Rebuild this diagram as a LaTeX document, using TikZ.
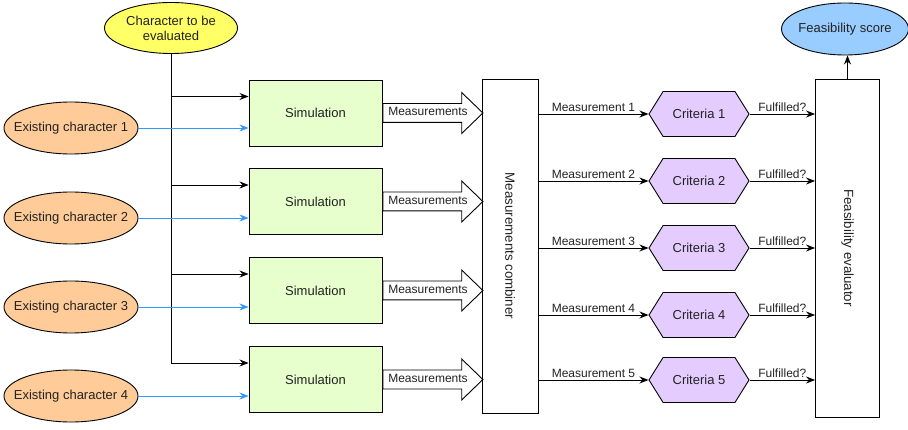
\documentclass[tikz,border=0pt]{standalone}
\usepackage{fontspec}
\setmainfont{Liberation Sans}
\usetikzlibrary{shapes.geometric,shapes.arrows,shapes.symbols,arrows.meta,calc}

\definecolor{inkgray}{HTML}{222222}
\definecolor{charyellow}{HTML}{FFFF66}
\definecolor{existorange}{HTML}{FFCC99}
\definecolor{simgreen}{HTML}{E6FFCC}
\definecolor{critpurple}{HTML}{E5CCFF}
\definecolor{scoreblue}{HTML}{99CCFF}
\definecolor{linkblue}{HTML}{3399FF}

\tikzset{
  base/.style={draw=black, line width=0.9pt, text=inkgray, font=\fontsize{13}{15}\selectfont, inner sep=0pt},
  % ellipse whose size is set only by its minimum dimensions; its caption is a centred label
  oval/.style={base, ellipse,
    label={[text=inkgray, font=\fontsize{13}{15}\selectfont, align=center, inner sep=0pt]center:#1}},
  simbox/.style={base, rectangle, fill=simgreen, minimum width=133pt, minimum height=66pt},
  tallbox/.style={base, rectangle, fill=white},
  vtext/.style={rotate=-90, text=inkgray, font=\fontsize{13.3}{15}\selectfont},
  crit/.style={base, signal, signal to=west and east, signal pointer angle=116,
    fill=critpurple, minimum width=100pt, minimum height=45pt},
  measarrow/.style={base, single arrow, fill=white, minimum height=100pt,
    single arrow head extend=11pt, single arrow tip angle=88,
    text height=8pt, text depth=2pt, inner ysep=4pt, inner xsep=1pt,
    font=\fontsize{12}{14}\selectfont},
  link/.style={line width=0.9pt, draw=black, -{Stealth[length=9pt,width=7pt]}},
  bluelink/.style={link, draw=linkblue, -{Stealth[length=9pt,width=7pt]}},
  lbl/.style={text=inkgray, font=\fontsize{12}{14}\selectfont, inner sep=2pt},
}

\begin{document}
\begin{tikzpicture}[x=1pt, y=-1pt]
  \useasboundingbox (0,0) rectangle (908,430);

  % inputs
  \node[oval={Character to be\\evaluated}, fill=charyellow, minimum width=133pt, minimum height=51pt]
    (char) at (171,28) {};

  \foreach \i/\y in {1/128, 2/218, 3/307, 4/396} {
    \node[oval={Existing character \i}, fill=existorange, minimum width=134pt, minimum height=52pt]
      (ex\i) at (71,\y) {};
  }

  % simulation stages
  \foreach \i/\y in {1/113, 2/201.5, 3/290.5, 4/379.5} {
    \node[simbox] (sim\i) at (315.5,\y) {Simulation};
    \coordinate (br\i) at ([yshift=16.5pt]sim\i.west);
  }

  % combiner and evaluator blocks
  \node[tallbox, minimum width=56pt, minimum height=334pt] (comb) at (510,246) {};
  \node[vtext] at (comb.center) {Measurements combiner};

  \node[tallbox, minimum width=64pt, minimum height=338pt] (feas) at (847.5,248) {};
  \node[vtext] at (feas.center) {Feasibility evaluator};

  \node[oval={Feasibility score}, fill=scoreblue, minimum width=127pt, minimum height=52pt] (score) at (845,29) {};

  % criteria checks
  \foreach \i/\y in {1/114, 2/181, 3/248, 4/315, 5/380} {
    \node[crit] (crit\i) at (699,\y) {Criteria \i};
  }

  % candidate feed into every simulation
  \draw[line width=0.9pt] (char.south) -- (char.south |- br4);
  \foreach \i in {1,2,3,4} {
    \draw[link] (char.south |- br\i) -- (br\i);
  }

  % reference characters feed
  \foreach \i in {1,2,3,4} {
    \draw[bluelink] (ex\i.east) -- (ex\i.east -| sim\i.west);
  }

  % measurements passed to the combiner
  \foreach \i in {1,2,3,4} {
    \node[measarrow, anchor=tail] (ma\i) at (sim\i.east) {Measurements};
  }

  % combiner to criteria, criteria to evaluator
  \foreach \i in {1,2,3,4,5} {
    \draw[link] (crit\i.west -| comb.east) -- node[lbl, above, pos=0.5] {Measurement \i} (crit\i.west);
    \draw[link] (crit\i.east) -- node[lbl, above, pos=0.5] {Fulfilled?} (crit\i.east -| feas.west);
  }

  \draw[link] (feas.north) -- (feas.north |- score.south);
\end{tikzpicture}
\end{document}
